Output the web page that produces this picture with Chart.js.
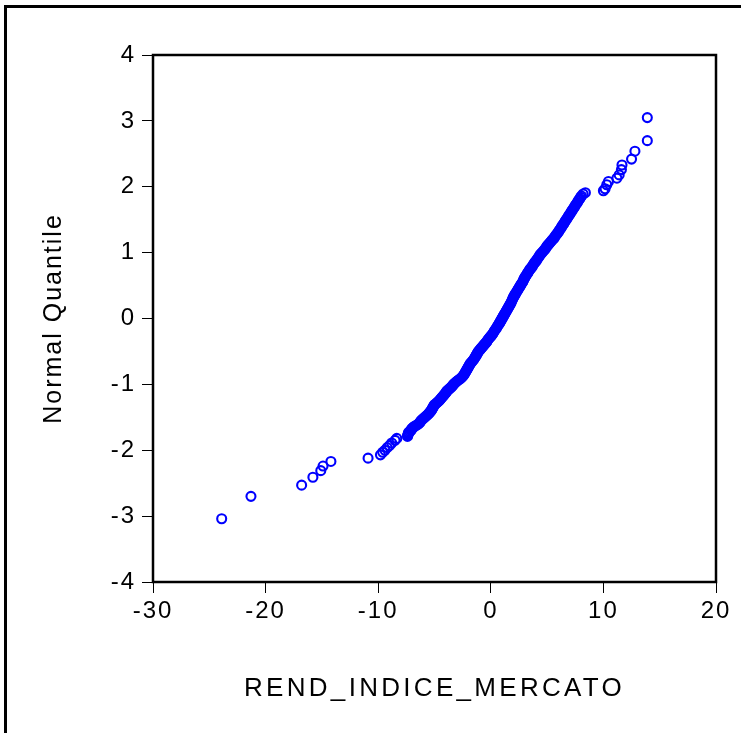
<!DOCTYPE html>
<html>
<head>
<meta charset="utf-8">
<script src="https://cdn.jsdelivr.net/npm/chart.js@4.4.1/dist/chart.umd.min.js"></script>
<style>
  body { margin: 0; background: #fff; }
  #frame {
    position: absolute; left: 4px; top: 5px; width: 800px; height: 800px;
    border-left: 3px solid #000; border-top: 3px solid #000;
  }
  #wrap { position: absolute; left: 0; top: 0; width: 741px; height: 733px; }
</style>
</head>
<body>
<div id="frame"></div>
<div id="wrap"><canvas id="qq"></canvas></div>
<script>
// sample values (REND_INDICE_MERCATO) and matching normal quantiles
const rendIndice = [
  -23.9, -21.3, -16.8, -15.8, -15.1, -14.9, -14.2, -10.9,
  -9.8, -9.6, -9.4, -9.2, -9.0, -8.8, -8.5, -8.35,
  -7.4, -7.35, -7.3, -7.1, -7.0, -6.8, -6.5, -6.3, -6.2, -6.0,
  -5.8, -5.6, -5.45, -5.3, -5.2, -5.1, -5.0, -4.8, -4.6, -4.45,
  -4.3, -4.15, -4.0, -3.9, -3.7, -3.5, -3.35, -3.2, -3.0, -2.75,
  -2.55, -2.4, -2.3, -2.2, -2.1, -2.0, -1.9, -1.8, -1.65, -1.5,
  -1.4, -1.3, -1.2, -1.1, -0.95, -0.8, -0.65, -0.5, -0.35, -0.2,
  -0.05, 0.1, 0.25, 0.4, 0.55, 0.7, 0.8, 0.9, 1.0, 1.1,
  1.2, 1.3, 1.4, 1.5, 1.6, 1.7, 1.8, 1.9, 2.0, 2.1,
  2.2, 2.35, 2.45, 2.6, 2.7, 2.85, 2.95, 3.05, 3.2, 3.3,
  3.45, 3.6, 3.75, 3.9, 4.05, 4.2, 4.35, 4.5, 4.7, 4.85,
  5.0, 5.15, 5.3, 5.5, 5.65, 5.8, 5.95, 6.1, 6.25, 6.4,
  6.55, 6.7, 6.85, 7.0, 7.15, 7.3, 7.45, 7.6, 7.75, 7.9,
  8.05, 8.2, 8.4,
  10.0, 10.15, 10.3, 10.45, 11.2, 11.4, 11.6, 11.65, 12.5, 12.8, 13.9, 13.9
];
const normalQuantile = [
  -3.04, -2.70, -2.53, -2.41, -2.31, -2.24, -2.17, -2.12,
  -2.07, -2.03, -2.00, -1.96, -1.93, -1.89, -1.85, -1.82,
  -1.79, -1.76, -1.73, -1.70, -1.67, -1.64, -1.61, -1.58, -1.55, -1.52,
  -1.49, -1.46, -1.43, -1.40, -1.37, -1.34, -1.31, -1.28, -1.25, -1.22,
  -1.19, -1.16, -1.13, -1.10, -1.07, -1.04, -1.01, -0.98, -0.95, -0.92,
  -0.89, -0.86, -0.83, -0.80, -0.77, -0.74, -0.71, -0.68, -0.65, -0.62,
  -0.59, -0.56, -0.53, -0.50, -0.47, -0.44, -0.41, -0.38, -0.35, -0.31,
  -0.28, -0.25, -0.21, -0.17, -0.13, -0.09, -0.06, -0.03, 0.00, 0.03,
  0.06, 0.09, 0.12, 0.15, 0.18, 0.21, 0.24, 0.28, 0.32, 0.35,
  0.38, 0.42, 0.45, 0.49, 0.52, 0.56, 0.60, 0.63, 0.67, 0.70,
  0.74, 0.77, 0.81, 0.85, 0.88, 0.92, 0.96, 0.99, 1.03, 1.06,
  1.10, 1.13, 1.16, 1.20, 1.23, 1.27, 1.30, 1.34, 1.38, 1.42,
  1.46, 1.50, 1.54, 1.58, 1.62, 1.66, 1.70, 1.74, 1.78, 1.82,
  1.86, 1.89, 1.91,
  1.94, 1.97, 2.03, 2.08, 2.13, 2.18, 2.26, 2.33, 2.42, 2.54, 2.70, 3.05
];
// further observations inside the dense central band
const rendIndiceMid = [
  -7.38, -7.32, -7.2, -7.05, -6.9, -6.65, -6.4, -6.25, -6.1, -5.9,
  -5.7, -5.52, -5.38, -5.25, -5.15, -5.05, -4.9, -4.7, -4.52, -4.38,
  -4.22, -4.08, -3.95, -3.8, -3.6, -3.42, -3.28, -3.1, -2.88, -2.65,
  -2.48, -2.35, -2.25, -2.15, -2.05, -1.95, -1.85, -1.72, -1.58, -1.45,
  -1.35, -1.25, -1.15, -1.02, -0.88, -0.72, -0.58, -0.42, -0.28, -0.12,
  0.02, 0.18, 0.32, 0.48, 0.62, 0.75, 0.85, 0.95, 1.05, 1.15,
  1.25, 1.35, 1.45, 1.55, 1.65, 1.75, 1.85, 1.95, 2.05, 2.15,
  2.28, 2.4, 2.52, 2.65, 2.78, 2.9, 3.0, 3.12, 3.25, 3.38,
  3.52, 3.68, 3.82, 3.98, 4.12, 4.28, 4.42, 4.6, 4.78, 4.92,
  5.08, 5.22, 5.4, 5.58, 5.72, 5.88, 6.02, 6.18, 6.32, 6.48,
  6.62, 6.78, 6.92, 7.08, 7.22, 7.38, 7.52, 7.68, 7.82, 7.98
];
const normalQuantileMid = [
  -1.775, -1.745, -1.715, -1.685, -1.655, -1.625, -1.595, -1.565, -1.535, -1.505,
  -1.475, -1.445, -1.415, -1.385, -1.355, -1.325, -1.295, -1.265, -1.235, -1.205,
  -1.175, -1.145, -1.115, -1.085, -1.055, -1.025, -0.995, -0.965, -0.935, -0.905,
  -0.875, -0.845, -0.815, -0.785, -0.755, -0.725, -0.695, -0.665, -0.635, -0.605,
  -0.575, -0.545, -0.515, -0.485, -0.455, -0.425, -0.395, -0.365, -0.33, -0.295,
  -0.265, -0.23, -0.19, -0.15, -0.11, -0.075, -0.045, -0.015, 0.015, 0.045,
  0.075, 0.105, 0.135, 0.165, 0.195, 0.225, 0.26, 0.30, 0.335, 0.365,
  0.40, 0.435, 0.47, 0.505, 0.54, 0.58, 0.615, 0.65, 0.685, 0.72,
  0.755, 0.79, 0.83, 0.865, 0.90, 0.94, 0.975, 1.01, 1.045, 1.08,
  1.115, 1.145, 1.18, 1.215, 1.25, 1.285, 1.32, 1.36, 1.40, 1.44,
  1.48, 1.52, 1.56, 1.60, 1.64, 1.68, 1.72, 1.76, 1.80, 1.84
];
const xTicks = [-30, -20, -10, 0, 10, 20];
const yTicks = [-4, -3, -2, -1, 0, 1, 2, 3, 4];

const allX = rendIndice.concat(rendIndiceMid);
const allY = normalQuantile.concat(normalQuantileMid);
const points = allX.map((v, i) => ({ x: v, y: allY[i] }));
const FONT = "'Liberation Sans', Arial, sans-serif";

// letter spacing for the texts and a black frame round the plot area
const plotFrame = {
  id: 'plotFrame',
  beforeDraw(chart) {
    chart.ctx.letterSpacing = '2px';
    const xs = chart.scales.x;
    if (!xs._spaced) {
      const orig = xs.drawTitle;
      xs.drawTitle = function () {
        this.ctx.save();
        this.ctx.letterSpacing = '3.3px';
        orig.call(this);
        this.ctx.restore();
      };
      xs._spaced = true;
    }
  },
  afterDraw(chart) {
    const { ctx, chartArea: a } = chart;
    ctx.save();
    ctx.strokeStyle = '#000';
    ctx.lineWidth = 2.5;
    ctx.strokeRect(a.left, a.top, a.right - a.left, a.bottom - a.top);
    ctx.restore();
  }
};

new Chart(document.getElementById('qq'), {
  type: 'scatter',
  data: {
    datasets: [{
      data: points,
      pointStyle: 'circle',
      pointRadius: 4.5,
      pointBorderWidth: 2.1,
      borderColor: '#0000ff',
      backgroundColor: 'rgba(0,0,0,0)'
    }]
  },
  options: {
    responsive: true,
    maintainAspectRatio: false,
    animation: false,
    layout: { padding: { left: 0, top: 55, right: 25, bottom: 0 } },
    plugins: { legend: { display: false }, tooltip: { enabled: false } },
    scales: {
      x: {
        type: 'linear',
        min: xTicks[0],
        max: xTicks[xTicks.length - 1],
        afterBuildTicks: s => { s.ticks = xTicks.map(v => ({ value: v })); },
        afterFit: s => { s.height = 151; },
        border: { display: false },
        grid: { drawOnChartArea: false, drawTicks: true, tickLength: 11, tickWidth: 1, tickColor: '#000' },
        ticks: { color: '#000', font: { family: FONT, size: 24 }, padding: 4, maxRotation: 0 },
        title: {
          display: true, text: 'REND_INDICE_MERCATO', color: '#000',
          font: { family: FONT, size: 26 }, padding: { top: 0, bottom: 29 }
        }
      },
      y: {
        type: 'linear',
        min: yTicks[0],
        max: yTicks[yTicks.length - 1],
        afterBuildTicks: s => { s.ticks = yTicks.map(v => ({ value: v })); },
        afterFit: s => { s.width = 153; },
        border: { display: false },
        grid: { drawOnChartArea: false, drawTicks: true, tickLength: 11, tickWidth: 1, tickColor: '#000' },
        ticks: { color: '#000', font: { family: FONT, size: 24 }, padding: 6 },
        title: {
          display: true, text: 'Normal Quantile', color: '#000',
          font: { family: FONT, size: 25 }, padding: { top: 39, bottom: 0 }
        }
      }
    }
  },
  plugins: [plotFrame]
});
</script>
</body>
</html>
